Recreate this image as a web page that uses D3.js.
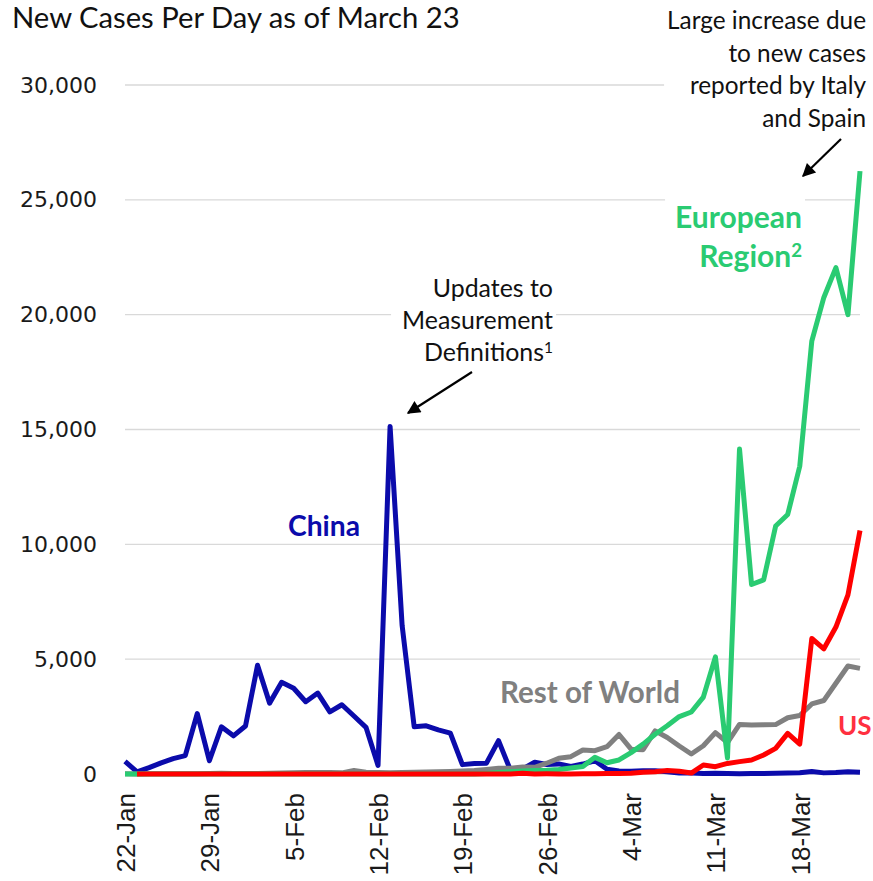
<!DOCTYPE html>
<html>
<head>
<meta charset="utf-8">
<script src="https://cdn.jsdelivr.net/npm/d3@7"></script>
<style>
  html, body { margin: 0; padding: 0; background: #ffffff; }
  svg { display: block; }
</style>
</head>
<body>
<svg id="chart" width="873" height="881"></svg>
<script>
// ---- Data: new cases per day, 22 Jan – 23 Mar 2020 ----
const firstDay = new Date(Date.UTC(2020, 0, 22));
const lastDay = new Date(Date.UTC(2020, 2, 23));
const tickLabels = ["22-Jan", "29-Jan", "5-Feb", "12-Feb", "19-Feb", "26-Feb", "4-Mar", "11-Mar", "18-Mar"];
const yTicks = [0, 5000, 10000, 15000, 20000, 25000, 30000];
const yTickLabels = ["0", "5,000", "10,000", "15,000", "20,000", "25,000", "30,000"];

const china = [
  548, 95, 277, 486, 669, 802, 2632, 578, 2054, 1661,
  2089, 4739, 3086, 3991, 3733, 3147, 3523, 2704, 3015, 2525,
  2032, 373, 15136, 6463, 2055, 2100, 1921, 1777, 408, 458,
  473, 1451, 150, 219, 513, 411, 439, 331, 433,
  578, 206, 129, 120, 143, 146, 102, 46, 45, 20,
  31, 26, 11, 18, 27, 29, 39, 58, 111, 49,
  67, 102, 78
];
const europe = [
  0, 0, 2, 1, 0, 0, 4, 1, 0, 2,
  5, 1, 0, 0, 1, 0, 2, 5, 1, 2,
  0, 0, 1, 0, 1, 0, 0, 0, 0, 0,
  20, 70, 100, 130, 150, 160, 200, 260, 330,
  725, 490, 610, 930, 1300, 1730, 2100, 2500, 2700, 3350,
  5100, 700, 14150, 8250, 8450, 10800, 11300, 13400, 18850, 20750,
  22050, 20000, 26250
];
const restOfWorld = [
  7, 4, 10, 8, 12, 10, 15, 20, 30, 25,
  20, 25, 30, 40, 50, 60, 70, 60, 50, 150,
  80, 60, 50, 70, 80, 90, 100, 110, 130, 150,
  200, 246, 250, 300, 290, 470, 682, 755, 1045,
  1016, 1190, 1720, 1080, 1060, 1880, 1590, 1220, 870, 1230,
  1800, 1370, 2160, 2130, 2140, 2150, 2450, 2550, 3050, 3200,
  3950, 4700, 4600
];
const us = [
  null, 0, 1, 0, 3, 0, 0, 0, 1, 2,
  1, 0, 3, 0, 1, 0, 0, 0, 0, 1,
  0, 0, 1, 0, 0, 0, 0, 0, 0, 0,
  2, 0, 0, 36, 0, 6, 1, 3, 8,
  8, 23, 20, 33, 77, 100, 150, 120, 40, 390,
  320, 460, 540, 610, 827, 1117, 1770, 1306, 5900, 5450,
  6400, 7800, 10600
];

const dates = d3.utcDay.range(firstDay, d3.utcDay.offset(lastDay, 1));

const series = [
  { name: "China", values: china, color: "#0b0bab" },
  { name: "Rest of World", values: restOfWorld, color: "#808080" },
  { name: "European Region", values: europe, color: "#2acb72" },
  { name: "US", values: us, color: "#ff0000" }
];

// ---- Scales ----
const svg = d3.select("#chart");
const plotLeft = 125, plotRight = 860, plotTop = 85, plotBottom = 774;

const x = d3.scaleUtc().domain([firstDay, lastDay]).range([plotLeft, plotRight]);
const y = d3.scaleLinear().domain([0, 30000]).range([plotBottom, plotTop]);

// ---- Gridlines ----
svg.append("g")
  .attr("class", "grid")
  .selectAll("line")
  .data(yTicks)
  .join("line")
  .attr("x1", plotLeft)
  .attr("x2", plotRight)
  .attr("y1", d => y(d))
  .attr("y2", d => y(d))
  .attr("stroke", "#d9d9d9")
  .attr("stroke-width", 1.3);

// ---- Y axis labels ----
const yAxis = d3.axisLeft(y)
  .tickValues(yTicks)
  .tickFormat((d, i) => yTickLabels[i])
  .tickSize(0)
  .tickPadding(28);
const gy = svg.append("g").attr("transform", `translate(${plotLeft},0)`).call(yAxis);
gy.select(".domain").remove();
gy.selectAll("text")
  .attr("font-family", "'DejaVu Sans', sans-serif")
  .attr("font-size", 22)
  .attr("fill", "#1a1a1a");

// ---- X axis labels (rotated) ----
const tickDates = dates.filter((d, i) => i % 7 === 0);
const xAxis = d3.axisBottom(x)
  .tickValues(tickDates)
  .tickFormat((d, i) => tickLabels[i])
  .tickSize(0);
const gx = svg.append("g").attr("transform", `translate(0,${plotBottom})`).call(xAxis);
gx.select(".domain").remove();
gx.selectAll("text")
  .attr("font-family", "'Liberation Sans', Arial, sans-serif")
  .attr("font-size", 26)
  .attr("fill", "#1a1a1a")
  .attr("text-anchor", "end")
  .attr("transform", "translate(0,19) rotate(-90)")
  .attr("x", 0)
  .attr("y", 0)
  .attr("dy", "0.36em");

// ---- Lines ----
const line = d3.line()
  .defined(d => d != null)
  .x((d, i) => x(dates[i]))
  .y(d => y(d));

svg.append("g")
  .attr("class", "series")
  .selectAll("path")
  .data(series)
  .join("path")
  .attr("d", s => line(s.values))
  .attr("fill", "none")
  .attr("stroke", s => s.color)
  .attr("stroke-width", 5)
  .attr("stroke-linejoin", "round")
  .attr("stroke-linecap", "butt");

// ---- Text helpers ----
const annoFont = "Lato, 'Open Sans', sans-serif";

function textBlock(opts) {
  const g = svg.append("g");
  const t = g.append("text")
    .attr("font-family", annoFont)
    .attr("font-size", opts.size)
    .attr("font-weight", opts.weight || "normal")
    .attr("fill", opts.color)
    .attr("text-anchor", opts.anchor || "end");
  const rows = opts.lines.map((ln, i) => {
    const row = t.append("tspan").attr("x", opts.x).attr("y", opts.baselines[i]);
    row.append("tspan").text(ln.text);
    if (ln.sup) {
      row.append("tspan")
        .attr("font-size", "0.62em")
        .attr("dy", "-0.55em")
        .text(ln.sup);
    }
    return row;
  });
  // scale the font so the reference line spans the given width
  if (opts.fitLine != null) {
    const w = rows[opts.fitLine].node().getComputedTextLength();
    t.attr("font-size", opts.size * opts.fitWidth / w);
  }
  if (opts.background) {
    const b = t.node().getBBox();
    g.insert("rect", "text")
      .attr("x", b.x - opts.background[0])
      .attr("y", b.y)
      .attr("width", b.width + opts.background[0] + opts.background[1])
      .attr("height", b.height)
      .attr("fill", "#ffffff");
  }
  return g;
}

// ---- Title ----
textBlock({
  lines: [{ text: "New Cases Per Day as of March 23" }],
  x: 12, baselines: [28], size: 26, color: "#111111", anchor: "start",
  fitLine: 0, fitWidth: 448
});

// ---- Annotations ----
textBlock({
  lines: [{ text: "Large increase due" }, { text: "to new cases" }, { text: "reported by Italy" }, { text: "and Spain" }],
  x: 866, baselines: [29, 61.5, 94, 126.5], size: 22, color: "#111111",
  fitLine: 0, fitWidth: 199, background: [3, 8]
});
textBlock({
  lines: [{ text: "Updates to" }, { text: "Measurement" }, { text: "Definitions", sup: "1" }],
  x: 553, baselines: [297, 329, 361], size: 22, color: "#111111",
  fitLine: 1, fitWidth: 151, background: [11, 3]
});
textBlock({
  lines: [{ text: "European" }, { text: "Region", sup: "2" }],
  x: 802, baselines: [228, 267], size: 26, weight: "bold", color: "#2acb72",
  fitLine: 0, fitWidth: 127, background: [10, 3]
});

// ---- Series labels ----
textBlock({
  lines: [{ text: "China" }], x: 288, baselines: [536], size: 26, weight: "bold",
  color: "#0b0bab", anchor: "start", fitLine: 0, fitWidth: 72
});
textBlock({
  lines: [{ text: "Rest of World" }], x: 500, baselines: [703], size: 26, weight: "bold",
  color: "#808080", anchor: "start", fitLine: 0, fitWidth: 180
});
textBlock({
  lines: [{ text: "US" }], x: 838, baselines: [735], size: 26, weight: "bold",
  color: "#ff3040", anchor: "start"
});

// ---- Arrows ----
const defs = svg.append("defs");
defs.append("marker")
  .attr("id", "arrowhead")
  .attr("viewBox", "0 0 10 10")
  .attr("refX", 9)
  .attr("refY", 5)
  .attr("markerWidth", 7)
  .attr("markerHeight", 6)
  .attr("orient", "auto")
  .attr("markerUnits", "strokeWidth")
  .append("path")
  .attr("d", "M0,0 L10,5 L0,10 Z")
  .attr("fill", "#000000");

const arrows = [
  { from: [472, 372], to: [408, 413] },
  { from: [841, 139], to: [803, 176] }
];
svg.append("g")
  .selectAll("line")
  .data(arrows)
  .join("line")
  .attr("x1", d => d.from[0])
  .attr("y1", d => d.from[1])
  .attr("x2", d => d.to[0])
  .attr("y2", d => d.to[1])
  .attr("stroke", "#000000")
  .attr("stroke-width", 2.2)
  .attr("marker-end", "url(#arrowhead)");
</script>
</body>
</html>
